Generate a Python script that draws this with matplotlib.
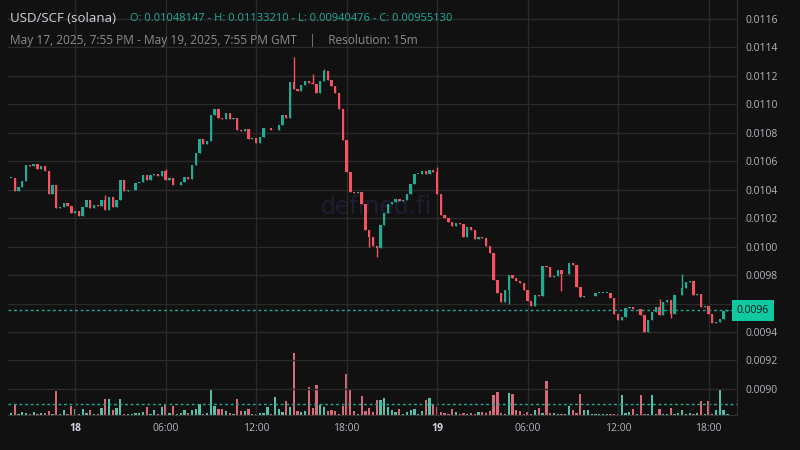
import matplotlib
matplotlib.use("Agg")
import matplotlib.pyplot as plt
import numpy as np
import pandas as pd

# closes (units of 1e-4 USD), 15-minute candles
closes_e4 = [
104.83,103.93,104.19,104.62,105.74,105.67,105.81,105.46,105.67,105.32,
103.70,104.33,102.72,102.79,103.07,102.86,102.37,102.51,102.16,102.79,
103.28,102.72,102.93,102.86,103.28,102.58,103.49,102.79,103.28,104.69,
103.91,103.98,103.98,104.48,104.55,105.04,104.69,105.04,105.11,104.97,
105.32,104.69,104.83,104.33,104.33,104.55,104.90,104.76,105.74,106.58,
107.57,107.22,107.43,109.25,109.68,109.04,108.97,109.39,108.97,109.04,
108.20,108.13,108.27,107.57,107.64,107.29,107.71,108.34,108.34,108.20,
108.20,108.55,109.25,109.04,111.57,111.08,110.94,111.36,111.64,111.50,
111.43,110.80,111.64,112.35,111.71,111.29,110.80,109.68,107.50,105.25,
103.84,103.77,103.84,103.00,101.17,100.68,100.05,99.91,101.52,102.37,
103.00,103.14,103.35,103.21,103.28,103.70,104.41,105.11,105.11,105.32,
105.11,105.39,105.25,103.70,102.23,102.02,101.73,101.45,101.66,101.59,
100.68,101.38,101.17,100.54,100.68,100.61,100.05,99.56,97.66,96.75,
96.11,96.96,98.01,97.80,97.59,97.45,96.96,96.18,95.83,96.60,
96.53,98.64,98.57,97.87,97.94,98.36,98.08,98.08,98.85,98.71,
97.17,96.46,96.53,96.53,96.53,96.75,96.75,96.75,96.75,96.39,
95.27,94.85,95.06,95.69,95.76,95.62,95.62,95.20,94.00,94.85,
95.41,95.76,95.20,96.11,96.25,95.27,96.60,96.60,97.10,97.52,
97.59,96.60,96.68,95.76,95.83,95.27,94.64,94.71,94.92,95.48,
95.513]
first_open_e4 = 104.83
# notable wick extremes (index: value, units 1e-4)
wick_highs_e4 = {75: 113.32, 83: 112.50, 80: 112.14, 84: 112.35, 41: 105.45, 25: 103.65,
                 99: 101.60, 113: 105.60, 178: 98.08, 172: 96.35}
wick_lows_e4 = {97: 99.28, 168: 94.05, 95: 100.0, 132: 96.0, 146: 96.9, 175: 95.0}

volumes = [6,33,3,9,6,3,9,3,6,6,12,3,69,3,15,3,27,18,3,18,6,15,3,3,21,45,45,15,21,45,
3,3,3,6,6,9,23,3,15,3,23,30,6,27,3,6,15,6,15,18,33,3,6,75,27,18,18,12,6,3,
45,12,12,18,3,3,6,6,24,3,51,18,9,39,24,180,12,9,12,81,21,87,30,24,12,15,12,3,27,120,
75,12,3,54,12,21,9,42,42,48,24,15,9,18,3,9,15,18,3,12,42,48,33,24,9,6,3,18,9,3,
6,3,6,3,9,9,6,12,57,66,6,3,63,60,15,12,3,9,3,15,21,6,99,6,6,3,3,3,27,15,6,60,
15,15,3,3,3,3,3,3,3,3,57,6,9,18,3,57,3,3,57,3,18,3,3,21,3,6,15,3,6,3,
6,39,3,39,3,15,72,15,3,15,24]

tick_labels = ["18", "06:00", "12:00", "18:00", "19", "06:00", "12:00", "18:00"]

closes = np.array(closes_e4) * 1e-4
n = len(closes)
opens = np.concatenate([[first_open_e4 * 1e-4], closes[:-1]])
highs = np.maximum(opens, closes).copy()
lows = np.minimum(opens, closes).copy()
for k, v in wick_highs_e4.items():
    if k < n: highs[k] = max(highs[k], v * 1e-4)
for k, v in wick_lows_e4.items():
    if k < n: lows[k] = min(lows[k], v * 1e-4)
vols = np.array(volumes[:n], dtype=float)
if len(vols) < n:
    vols = np.concatenate([vols, np.full(n - len(vols), 3.0)])
times = pd.date_range("2025-05-17 19:45", periods=n, freq="15min")

BG = "#111111"
GREEN = "#22ab94"
RED = "#f7525f"
GRID = "#2a2a2a"
TXT = "#b2b5be"

fig = plt.figure(figsize=(8, 4.5), dpi=100, facecolor=BG)
ax = fig.add_axes([0.01, 0.078, 0.911, 0.922], facecolor=BG)
xs = np.arange(n)
up = closes >= opens
cols = np.where(up, GREEN, RED)

# volume on twin axis
axv = ax.twinx()
axv.set_zorder(0); ax.set_zorder(1); ax.patch.set_visible(False)
axv.set_facecolor(BG)
vcols = np.where(up, "#5fd3b8", "#ee7384")
axv.bar(xs, vols, width=0.6, color=vcols, alpha=0.9)
ytop = vols.max() * 415 / 62
axv.set_ylim(0, ytop)
axv.axhline(ytop * 11 / 415, color=GREEN, lw=1, ls=(0, (2, 2)))
axv.set_yticks([])
for s in axv.spines.values(): s.set_visible(False)

body_lo = np.minimum(opens, closes)
body_h = np.abs(closes - opens)
body_h = np.maximum(body_h, 0.000003)
ax.vlines(xs, lows, highs, colors=cols, lw=1)
ax.bar(xs, body_h, bottom=body_lo, width=0.62, color=cols)

ax.axhline(closes[-1], color=GREEN, lw=1, ls=(0, (2, 2)))

ymin = 0.0116 - 396 / 142.3 * 0.001
ymax = 0.0116 + 19 / 142.3 * 0.001
ax.set_ylim(ymin, ymax)
ax.set_xlim(-0.8, 192.5)

yt = np.arange(0.0090, 0.01161, 0.0002)
ax.set_yticks(yt)
ax.yaxis.tick_right()
ax.set_yticklabels([f"{v:.4f}" for v in yt], color=TXT, fontsize=7.5, family="Open Sans")
ax.tick_params(axis="y", length=0, pad=6)
xt_times = pd.to_datetime(["2025-05-18 00:00", "2025-05-18 06:00", "2025-05-18 12:00", "2025-05-18 18:00",
                           "2025-05-19 00:00", "2025-05-19 06:00", "2025-05-19 12:00", "2025-05-19 18:00"])
xt = [(t - times[0]) / pd.Timedelta("15min") for t in xt_times]
ax.set_xticks(xt)
ax.set_xticklabels(tick_labels, color=TXT, fontsize=7.5, family="Open Sans")
for lbl, t in zip(ax.get_xticklabels(), tick_labels):
    if t in ("18", "19"):
        lbl.set_fontweight("bold"); lbl.set_color("#d1d4dc")
ax.tick_params(axis="x", length=0, pad=6)
ax.grid(True, color=GRID, lw=1)
ax.set_axisbelow(True)
for s in ax.spines.values(): s.set_visible(False)
ax.spines["right"].set_visible(True); ax.spines["right"].set_color("#333333")
ax.spines["bottom"].set_visible(True); ax.spines["bottom"].set_color("#333333")

# price label (covers the nearby tick label, as in the reference)
ax.annotate(f"{closes[-1]:.4f}", xy=(1.0, closes[-1]), xycoords=("axes fraction", "data"),
            xytext=(0, 0), textcoords="offset points", va="center", ha="left",
            fontsize=7.5, color="#111111", family="Open Sans", zorder=10,
            bbox=dict(boxstyle="square,pad=0.45", fc="#10c9a0", ec="none"), annotation_clip=False)
for lbl in ax.get_yticklabels():
    if lbl.get_text() == "0.0096":
        lbl.set_visible(False)

fig.text(0.47, 0.54, "defined.fi", color="#1e1e33", fontsize=17, ha="center", va="center", zorder=0)

fig.text(0.012, 0.958, "USD/SCF (solana)", color="#d1d4dc", fontsize=9.5, family="Open Sans", va="center")
fig.text(0.162, 0.958, "O: 0.01048147 - H: 0.01133210 - L: 0.00940476 - C: 0.00955130",
         color="#22ab94", fontsize=8, family="Open Sans", va="center")
fig.text(0.012, 0.91, "May 17, 2025, 7:55 PM - May 19, 2025, 7:55 PM GMT    |    Resolution: 15m",
         color="#8a8d95", fontsize=8.6, family="Open Sans", va="center")

fig.savefig("out.png", dpi=100, facecolor=BG)
